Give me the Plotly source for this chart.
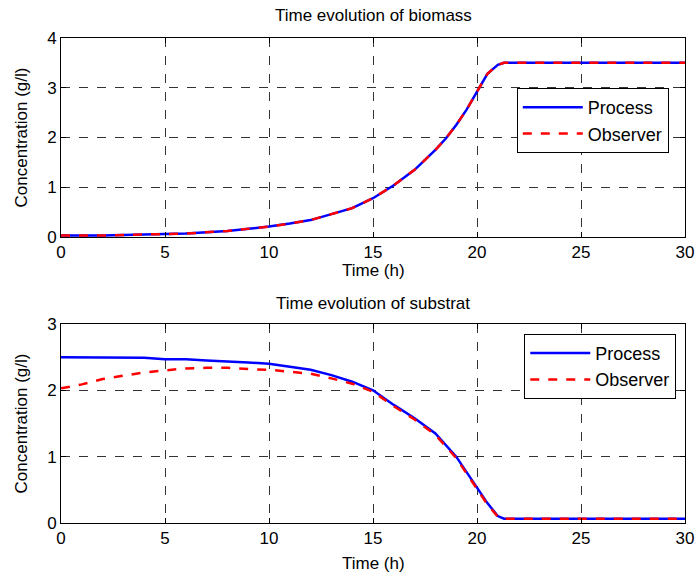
import plotly.graph_objects as go
from plotly.subplots import make_subplots

# Biomass (top)
t_bio = [0, 2, 4, 6, 8, 9, 10, 11, 12, 13, 14, 15, 16, 17, 18, 18.5, 19, 19.5, 20, 20.5, 21, 21.3, 30]
bio_process = [0.03, 0.03, 0.05, 0.07, 0.12, 0.16, 0.21, 0.27, 0.34, 0.46, 0.58, 0.78, 1.04, 1.35, 1.75, 1.98, 2.25, 2.56, 2.92, 3.28, 3.46, 3.5, 3.5]
bio_observer = [0.03, 0.03, 0.05, 0.07, 0.12, 0.16, 0.21, 0.27, 0.34, 0.46, 0.58, 0.78, 1.04, 1.35, 1.75, 1.98, 2.25, 2.56, 2.92, 3.28, 3.46, 3.5, 3.5]

# Substrate (bottom)
t_sub = [0, 1, 2, 3, 4, 5, 6, 7, 8, 9, 10, 11, 12, 13, 14, 15, 16, 17, 18, 19, 19.5, 20, 20.5, 21, 21.3, 30]
sub_process = [2.50, 2.50, 2.50, 2.50, 2.49, 2.47, 2.47, 2.45, 2.44, 2.42, 2.40, 2.36, 2.31, 2.23, 2.13, 2.00, 1.78, 1.58, 1.35, 1.00, 0.77, 0.52, 0.30, 0.105, 0.065, 0.065]
sub_observer = [2.03, 2.09, 2.17, 2.22, 2.27, 2.30, 2.33, 2.34, 2.34, 2.32, 2.31, 2.28, 2.25, 2.18, 2.10, 1.98, 1.76, 1.56, 1.33, 0.98, 0.75, 0.50, 0.28, 0.095, 0.065, 0.065]

x_ticks = [0, 5, 10, 15, 20, 25, 30]
bio_ticks = [0, 1, 2, 3, 4]
sub_ticks = [0, 1, 2, 3]

FONT = "Liberation Sans, Arial, sans-serif"
FS = 17

fig = make_subplots(rows=2, cols=1, vertical_spacing=0.18)

fig.add_trace(go.Scatter(x=t_bio, y=bio_process, mode="lines", name="Process",
                         line=dict(color="#0000ff", width=2.5), legend="legend"), row=1, col=1)
fig.add_trace(go.Scatter(x=t_bio, y=bio_observer, mode="lines", name="Observer",
                         line=dict(color="#ff0000", width=2.5, dash="dash"), legend="legend"), row=1, col=1)
fig.add_trace(go.Scatter(x=t_sub, y=sub_process, mode="lines", name="Process",
                         line=dict(color="#0000ff", width=2.5), legend="legend2"), row=2, col=1)
fig.add_trace(go.Scatter(x=t_sub, y=sub_observer, mode="lines", name="Observer",
                         line=dict(color="#ff0000", width=2.5, dash="dash"), legend="legend2"), row=2, col=1)

axis_common = dict(showline=True, linecolor="black", linewidth=1, mirror="ticks",
                   ticks="inside", ticklen=5, tickcolor="black", automargin=False,
                   showgrid=True, gridcolor="#333333", griddash="dash", gridwidth=1,
                   zeroline=False, tickfont=dict(family=FONT, size=FS, color="black"),
                   title_font=dict(family=FONT, size=FS, color="black"))

txt = dict(family=FONT, size=FS, color="black")

leg_common = dict(xanchor="right", yanchor="top", xref="paper", yref="paper",
                  bordercolor="black", borderwidth=1, bgcolor="white",
                  font=dict(family=FONT, size=18, color="black"), tracegroupgap=0, itemwidth=60)

fig.update_layout(
    width=696, height=577,
    margin=dict(l=61, r=11, t=38, b=54),
    paper_bgcolor="white", plot_bgcolor="white",
    font=txt,
    xaxis=dict(domain=[0, 1], range=[0, 30], tickvals=x_ticks, **axis_common),
    yaxis=dict(domain=[0.5897, 1], range=[0, 4], tickvals=bio_ticks, title=dict(text="Concentration (g/l)"), **axis_common),
    xaxis2=dict(domain=[0, 1], range=[0, 30], tickvals=x_ticks, **axis_common),
    yaxis2=dict(domain=[0, 0.4103], range=[0, 3], tickvals=sub_ticks, title=dict(text="Concentration (g/l)"), **axis_common),
    legend=dict(x=0.974, y=0.897, **leg_common),
    legend2=dict(x=0.986, y=0.39, **leg_common),
    annotations=[
        dict(text="Time evolution of biomass", x=0.5, y=1.0, xref="x domain", yref="y domain",
             xanchor="center", yanchor="middle", yshift=23, showarrow=False, font=txt),
        dict(text="Time evolution of substrat", x=0.5, y=1.0, xref="x2 domain", yref="y2 domain",
             xanchor="center", yanchor="middle", yshift=21, showarrow=False, font=txt),
        dict(text="Time (h)", x=0.5, y=0.0, xref="x domain", yref="y domain",
             xanchor="center", yanchor="middle", yshift=-34, showarrow=False, font=txt),
        dict(text="Time (h)", x=0.5, y=0.0, xref="x2 domain", yref="y2 domain",
             xanchor="center", yanchor="middle", yshift=-40, showarrow=False, font=txt),
    ],
)

# remove the default 8px page margin so the figure fills the window exactly
fig.write_html("out.html", config={"displayModeBar": False},
               post_script="document.body.style.margin='0';document.body.style.overflow='hidden';")
